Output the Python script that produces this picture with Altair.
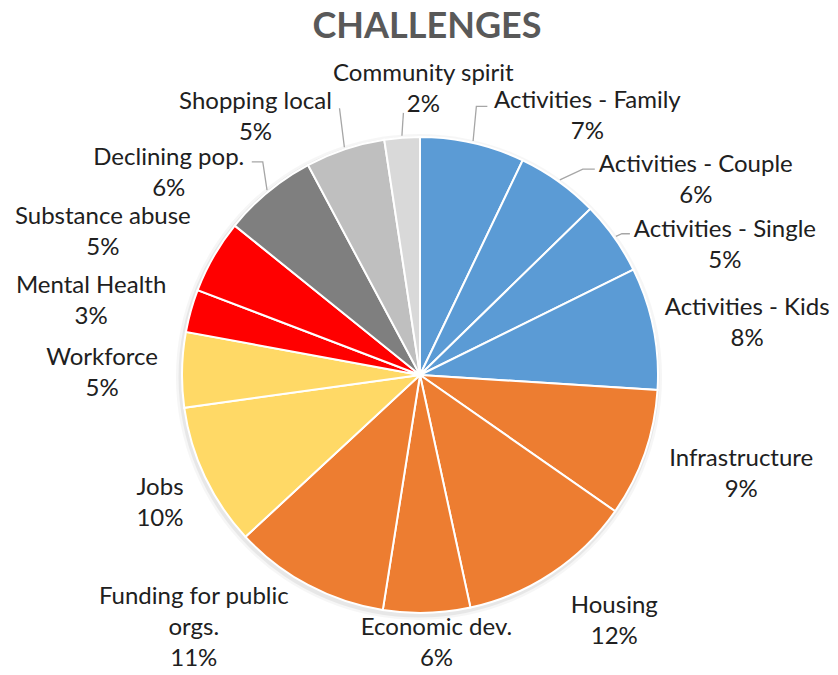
import math
import altair as alt
import pandas as pd

# ---------------- data ----------------
categories = ["Activities - Family", "Activities - Couple", "Activities - Single", "Activities - Kids",
              "Infrastructure", "Housing", "Economic dev.", "Funding for public orgs.", "Jobs",
              "Workforce", "Mental Health", "Substance abuse", "Declining pop.", "Shopping local",
              "Community spirit"]
values = [7.1, 5.6, 5.0, 8.3, 8.7, 11.9, 5.9, 10.6, 9.7, 5.1, 2.9, 5.0, 6.4, 5.4, 2.4]
label_names = ["Activities - Family", "Activities - Couple", "Activities - Single", "Activities - Kids",
               "Infrastructure", "Housing", "Economic dev.", "Funding for public\norgs.", "Jobs",
               "Workforce", "Mental Health", "Substance abuse", "Declining pop.", "Shopping local",
               "Community spirit"]
title_text = "CHALLENGES"

# ---------------- style / layout ----------------
colors = ["#5B9BD5", "#5B9BD5", "#5B9BD5", "#5B9BD5",
          "#ED7D31", "#ED7D31", "#ED7D31", "#ED7D31",
          "#FFD966", "#FFD966", "#FF0000", "#FF0000",
          "#7F7F7F", "#BFBFBF", "#D9D9D9"]
W, H = 822, 659
CX, CY, R = 412, 367, 238
LABEL_R = 300
LEADER_R = 240
FONT_SIZE = 24
LINE_H = 31
# label nudges (dx, dy) from radial anchor, like Excel's best-fit placement
label_nudge = {
    "Activities - Family": (101, 32), "Activities - Couple": (101, 47),
    "Activities - Single": (60, 42), "Activities - Kids": (33, 5),
    "Infrastructure": (38, -1), "Housing": (28, -5), "Economic dev.": (8, -33),
    "Funding for public orgs.": (-85, -14), "Jobs": (11, -2), "Workforce": (-18, 3),
    "Mental Health": (-40, 5), "Substance abuse": (-57, 5), "Declining pop.": (-60, 28),
    "Shopping local": (-70, 25), "Community spirit": (26, 12),
}
# leader line bend/end points relative to label anchor
leader_pts = {
    "Community spirit": [(-20, 25)],
    "Shopping local": [(84, -7)],
    "Activities - Family": [(-111, -8), (-100, -8)],
    "Activities - Couple": [(-113, -9), (-101, -9)],
    "Activities - Single": [(-103, -10), (-95, -10)],
    "Declining pop.": [(94, -10), (83, -10)],
}

total = sum(values)
pie_df = pd.DataFrame({"category": categories, "value": values, "order": range(len(values))})

lab_rows, lead_rows = [], []
cum = 0.0
for cat, name, v in zip(categories, label_names, values):
    a0 = cum / total * 2 * math.pi
    cum += v
    a1 = cum / total * 2 * math.pi
    mid = (a0 + a1) / 2
    dx, dy = label_nudge[cat]
    lx = CX + LABEL_R * math.sin(mid) + dx
    ly = CY - LABEL_R * math.cos(mid) + dy
    pct = f"{round(v / total * 100)}%"
    text = name + "\n" + pct
    n_lines = text.count("\n") + 1
    # first line position so that the whole block is centred on (lx, ly)
    lab_rows.append({"x": lx, "y": ly - (n_lines - 1) * LINE_H / 2 + 2, "text": text})
    if cat in leader_pts:
        pts = [(CX + LEADER_R * math.sin(mid), CY - LEADER_R * math.cos(mid))]
        pts += [(lx + ox, ly + oy) for ox, oy in leader_pts[cat]]
        for k, (px, py) in enumerate(pts):
            lead_rows.append({"id": cat, "k": k, "x": px, "y": py})

lab_df = pd.DataFrame(lab_rows)
lead_df = pd.DataFrame(lead_rows)

# soft drop shadow under the pie (Excel style)
shadow_df = pd.DataFrame({"v": [total]})
shadow_outer = alt.Chart(shadow_df).mark_arc(outerRadius=R + 5, color="#000000", opacity=0.035).encode(
    theta=alt.Theta("v:Q"), x=alt.value(CX - 1), y=alt.value(CY + 2),
)
shadow_inner = alt.Chart(shadow_df).mark_arc(outerRadius=R + 2.5, color="#000000", opacity=0.06).encode(
    theta=alt.Theta("v:Q"), x=alt.value(CX - 1), y=alt.value(CY + 2),
)

pie = alt.Chart(pie_df).mark_arc(outerRadius=R, stroke="white", strokeWidth=2).encode(
    theta=alt.Theta("value:Q", stack=True),
    order=alt.Order("order:Q"),
    color=alt.Color("category:N", scale=alt.Scale(domain=categories, range=colors), legend=None),
    x=alt.value(CX),
    y=alt.value(CY),
)

leaders = alt.Chart(lead_df).mark_line(color="#A6A6A6", strokeWidth=1.3).encode(
    x=alt.X("x:Q", scale=None, axis=None),
    y=alt.Y("y:Q", scale=None, axis=None),
    detail="id:N",
    order="k:Q",
)

labels = alt.Chart(lab_df).mark_text(
    font="Lato", fontSize=FONT_SIZE, color="#202020", align="center", baseline="middle",
    lineBreak="\n", lineHeight=LINE_H,
).encode(
    x=alt.X("x:Q", scale=None, axis=None),
    y=alt.Y("y:Q", scale=None, axis=None),
    text="text:N",
)

title = alt.Chart(pd.DataFrame({"t": [title_text]})).mark_text(
    font="Lato", fontWeight="bold", fontSize=36, color="#595959", align="center", baseline="alphabetic"
).encode(text="t:N", x=alt.value(419), y=alt.value(30))

chart = alt.layer(shadow_outer, shadow_inner, pie, leaders, labels, title).properties(
    width=W, height=H, autosize=alt.AutoSizeParams(type="none"), padding=0
).configure_view(stroke=None)

chart.save("out.html", embed_options={"renderer": "svg", "actions": False})
